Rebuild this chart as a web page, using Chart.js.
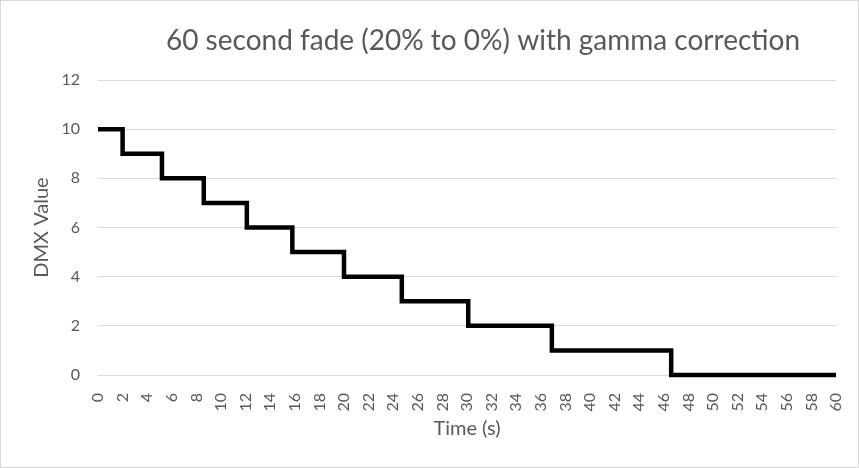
<!DOCTYPE html>
<html lang="en">
<head>
    <meta charset="UTF-8" />
    <title>60 second fade</title>
    <script src="https://cdn.jsdelivr.net/npm/chart.js"></script>
    <style>
        body { margin: 0; background: #fff; }
        #wrap { width: 859px; height: 468px; box-sizing: border-box; border: 1px solid #d9d9d9; }
    </style>
</head>
<body>
    <div id="wrap">
        <canvas id="fadeChart" width="857" height="466"></canvas>
    </div>

    <script>
        // time (s) where each new DMX level starts
        const stepTimes = [0, 2, 5.2, 8.6, 12.1, 15.8, 20, 24.7, 30.1, 36.9, 46.6, 60];
        const dmxValues = [10, 9, 8, 7, 6, 5, 4, 3, 2, 1, 0, 0];
        const chartTitle = "60 second fade (20% to 0%) with gamma correction";

        const textColor = '#595959';
        const gridColor = '#d9d9d9';

        // title is drawn a little right of the plot centre, like the original
        const titlePlugin = {
            id: 'offsetTitle',
            afterDraw(chart) {
                const ctx = chart.ctx;
                const area = chart.chartArea;
                ctx.save();
                ctx.font = '28px Lato';
                ctx.fillStyle = textColor;
                ctx.textAlign = 'center';
                ctx.textBaseline = 'alphabetic';
                ctx.fillText(chartTitle, (area.left + area.right) / 2 + 16, 49);
                ctx.restore();
            }
        };

        const points = stepTimes.map((t, i) => ({ x: t, y: dmxValues[i] }));

        new Chart(document.getElementById('fadeChart'), {
            type: 'line',
            data: {
                datasets: [{
                    label: 'DMX Value',
                    data: points,
                    stepped: true,
                    borderColor: '#000000',
                    borderWidth: 4.5,
                    borderJoinStyle: 'miter',
                    borderCapStyle: 'butt',
                    pointRadius: 0,
                    fill: false,
                    clip: 3
                }]
            },
            options: {
                responsive: false,
                animation: false,
                layout: { padding: { top: 79, right: 22, bottom: 0, left: 0 } },
                plugins: {
                    legend: { display: false },
                    tooltip: { enabled: false }
                },
                scales: {
                    x: {
                        type: 'linear',
                        min: 0,
                        max: 60,
                        grid: { display: false },
                        border: { display: false },
                        ticks: {
                            stepSize: 2,
                            minRotation: 90,
                            maxRotation: 90,
                            padding: 10,
                            color: textColor,
                            font: { family: 'Lato', size: 16 }
                        },
                        title: {
                            display: true,
                            text: 'Time (s)',
                            color: textColor,
                            font: { family: 'Lato', size: 20 },
                            padding: { top: 0, bottom: 26 }
                        },
                        afterFit(scale) {
                            scale.height = 92;
                            // let the layout padding alone decide the plot edges
                            scale.paddingLeft = 0;
                            scale.paddingRight = 0;
                        }
                    },
                    y: {
                        min: 0,
                        max: 12,
                        grid: { color: gridColor, drawTicks: false },
                        border: { display: false },
                        ticks: {
                            stepSize: 2,
                            padding: 18,
                            color: textColor,
                            font: { family: 'Lato', size: 16 }
                        },
                        title: {
                            display: true,
                            text: 'DMX Value',
                            color: textColor,
                            font: { family: 'Lato', size: 20 },
                            padding: { top: 29, bottom: 0 }
                        },
                        afterFit(scale) { scale.width = 97; }
                    }
                }
            },
            plugins: [titlePlugin]
        });
    </script>
</body>
</html>
